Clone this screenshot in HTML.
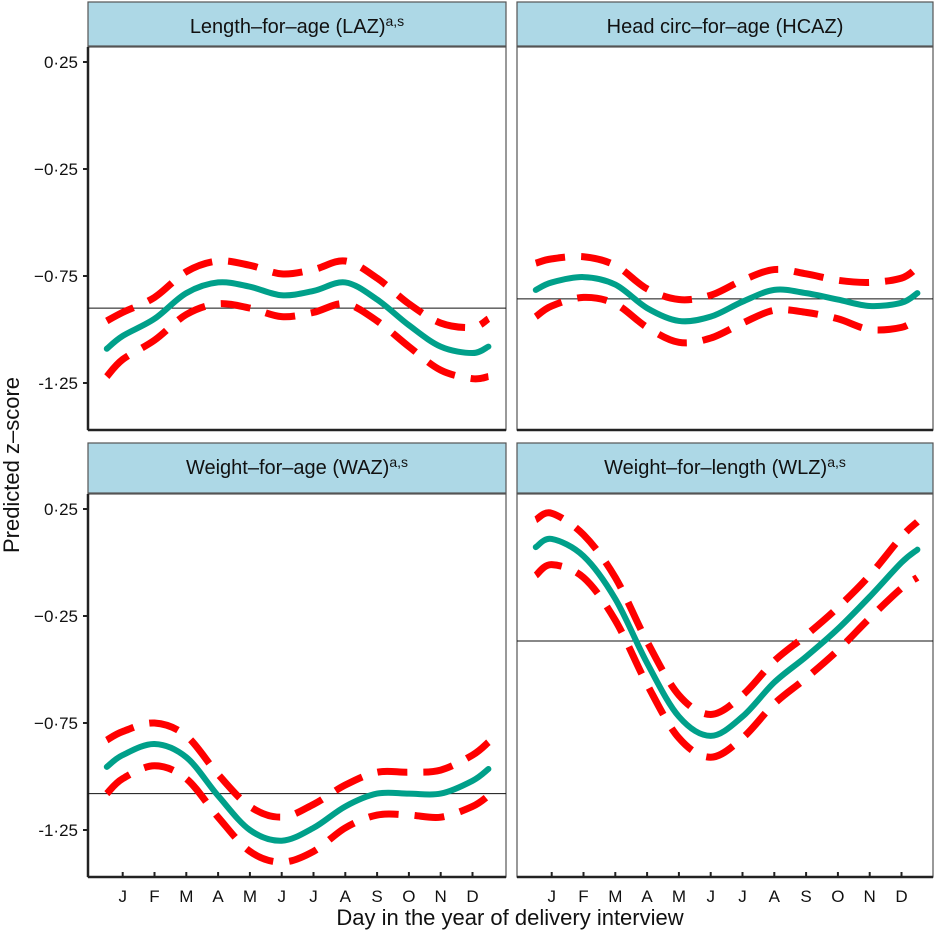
<!DOCTYPE html>
<html><head><meta charset="utf-8"><style>
body{margin:0;background:#fff;}
svg{display:block;font-family:"Liberation Sans",Arial,sans-serif;}
</style></head><body>
<svg id="chart" width="936" height="935" viewBox="0 0 936 935"></svg>
<script>
const months=["J","F","M","A","M","J","J","A","S","O","N","D"];
const yTicks=[0.25,-0.25,-0.75,-1.25];
const yTickLabels=["0·25","−0·25","−0·75","-1·25"];
const monthPos=[-0.5,0,1,2,3,4,5,6,7,8,9,10,11,11.5];
const titles=["Length–for–age (LAZ)","Head circ–for–age (HCAZ)","Weight–for–age (WAZ)","Weight–for–length (WLZ)"];
const sups=["a,s","","a,s","a,s"];
const refLines=[-0.90,-0.857,-1.08,-0.367];
const lazFit=[-1.09,-1.03,-0.95,-0.83,-0.78,-0.80,-0.84,-0.82,-0.78,-0.86,-0.98,-1.08,-1.11,-1.08];
const lazUp=[-0.96,-0.92,-0.85,-0.73,-0.68,-0.70,-0.74,-0.72,-0.68,-0.76,-0.88,-0.97,-0.99,-0.95];
const lazLo=[-1.22,-1.14,-1.05,-0.93,-0.88,-0.90,-0.94,-0.92,-0.88,-0.96,-1.08,-1.19,-1.23,-1.22];
const hcFit=[-0.815,-0.78,-0.755,-0.79,-0.90,-0.96,-0.94,-0.87,-0.815,-0.83,-0.86,-0.89,-0.875,-0.83];
const hcUp=[-0.69,-0.67,-0.66,-0.70,-0.81,-0.86,-0.84,-0.77,-0.72,-0.74,-0.77,-0.78,-0.76,-0.71];
const hcLo=[-0.94,-0.89,-0.85,-0.88,-0.99,-1.06,-1.04,-0.97,-0.91,-0.92,-0.95,-1.00,-0.99,-0.95];
const wazFit=[-0.955,-0.90,-0.848,-0.91,-1.09,-1.25,-1.30,-1.24,-1.14,-1.08,-1.08,-1.08,-1.02,-0.965];
const wazUp=[-0.83,-0.79,-0.75,-0.81,-0.99,-1.14,-1.19,-1.13,-1.04,-0.98,-0.98,-0.97,-0.90,-0.84];
const wazLo=[-1.08,-1.01,-0.95,-1.01,-1.19,-1.35,-1.40,-1.35,-1.24,-1.18,-1.18,-1.19,-1.14,-1.09];
const wlzFit=[0.072,0.11,0.03,-0.17,-0.47,-0.72,-0.81,-0.72,-0.56,-0.44,-0.31,-0.16,0.0,0.06];
const wlzUp=[0.20,0.23,0.13,-0.07,-0.37,-0.62,-0.71,-0.62,-0.46,-0.34,-0.21,-0.06,0.12,0.19];
const wlzLo=[-0.06,-0.01,-0.07,-0.27,-0.57,-0.82,-0.91,-0.82,-0.66,-0.54,-0.41,-0.26,-0.12,-0.07];
const fits=[lazFit,hcFit,wazFit,wlzFit], ups=[lazUp,hcUp,wazUp,wlzUp], los=[lazLo,hcLo,wazLo,wlzLo];

const NS="http://www.w3.org/2000/svg";
const svg=document.getElementById("chart");
function mk(tag,attrs,parent){const e=document.createElementNS(NS,tag);for(const k in attrs)e.setAttribute(k,attrs[k]);(parent||svg).appendChild(e);return e;}
const panels=[{x0:88,x1:506,y0:47,y1:430,sy:2},{x0:517,x1:933,y0:47,y1:430,sy:2},{x0:88,x1:506,y0:494,y1:877,sy:443},{x0:517,x1:933,y0:494,y1:877,sy:443}];
function smooth(pts){let d="M"+pts[0][0]+","+pts[0][1];for(let i=0;i<pts.length-1;i++){const p0=pts[Math.max(0,i-1)],p1=pts[i],p2=pts[i+1],p3=pts[Math.min(pts.length-1,i+2)];d+=" C"+(p1[0]+(p2[0]-p0[0])/6)+","+(p1[1]+(p2[1]-p0[1])/6)+" "+(p2[0]-(p3[0]-p1[0])/6)+","+(p2[1]-(p3[1]-p1[1])/6)+" "+p2[0]+","+p2[1];}return d;}
panels.forEach((p,i)=>{
  const g=mk("g",{});
  
  
  const xs=m=>p.x0+34.7+m*31.8;
  const ys=v=>p.y0+15+(0.25-v)*214;
  const strip=mk("rect",{x:p.x0,y:p.sy,width:p.x1-p.x0,height:p.y0-p.sy-1,fill:"#add8e6",stroke:"#555","stroke-width":1.2},g);
  
  
  const t=mk("text",{x:(p.x0+p.x1)/2,y:p.sy+31,"text-anchor":"middle","font-size":"20",fill:"#111"},g);
  t.textContent=titles[i];
  if(sups[i]){const s=mk("tspan",{"font-size":"14",dy:"-7"},t);s.textContent=sups[i];}
  
  
  const fr=mk("rect",{x:p.x0,y:p.y0,width:p.x1-p.x0,height:p.y1-p.y0,fill:"#fff",stroke:"#555","stroke-width":1.2},g);
  
  
  mk("line",{x1:p.x0,x2:p.x1,y1:p.y1,y2:p.y1,stroke:"#222","stroke-width":2.5},g);
  if(p.x0<300){mk("line",{x1:p.x0,x2:p.x0,y1:p.y0,y2:p.y1,stroke:"#222","stroke-width":2.5},g);
    yTicks.forEach((v,k)=>{mk("line",{x1:p.x0-5,x2:p.x0,y1:ys(v),y2:ys(v),stroke:"#222","stroke-width":2},g);
      const tl=mk("text",{x:p.x0-10,y:ys(v)+6,"text-anchor":"end","font-size":"17",fill:"#111"},g);tl.textContent=yTickLabels[k];
      
      });}
  if(i>=2){months.forEach((m,k)=>{mk("line",{x1:xs(k),x2:xs(k),y1:p.y1-5,y2:p.y1,stroke:"#222","stroke-width":2},g);
    const tl=mk("text",{x:xs(k),y:p.y1+25,"text-anchor":"middle","font-size":"17",fill:"#111"},g);tl.textContent=m;
    
    });}
  const rl=mk("line",{x1:p.x0,x2:p.x1,y1:ys(refLines[i]),y2:ys(refLines[i]),stroke:"#111","stroke-width":1},g);
  
  
  [ups[i],los[i]].forEach((arr,k)=>{
    const c=mk("path",{d:smooth(arr.map((v,j)=>[xs(monthPos[j]),ys(v)])),fill:"none",stroke:"#ff0000","stroke-width":7,"stroke-dasharray":"30 16"},g);
    
    
  });
  const f=mk("path",{d:smooth(fits[i].map((v,j)=>[xs(monthPos[j]),ys(v)])),fill:"none",stroke:"#00a08a","stroke-width":6,"stroke-linecap":"round"},g);
  
  
});
const yl=mk("text",{x:0,y:0,transform:"translate(19,465) rotate(-90)","text-anchor":"middle","font-size":"22",fill:"#111"});
yl.textContent="Predicted z–score";


const xl=mk("text",{x:510,y:925,"text-anchor":"middle","font-size":"22",fill:"#111"});
xl.textContent="Day in the year of delivery interview";


</script>
</body></html>
